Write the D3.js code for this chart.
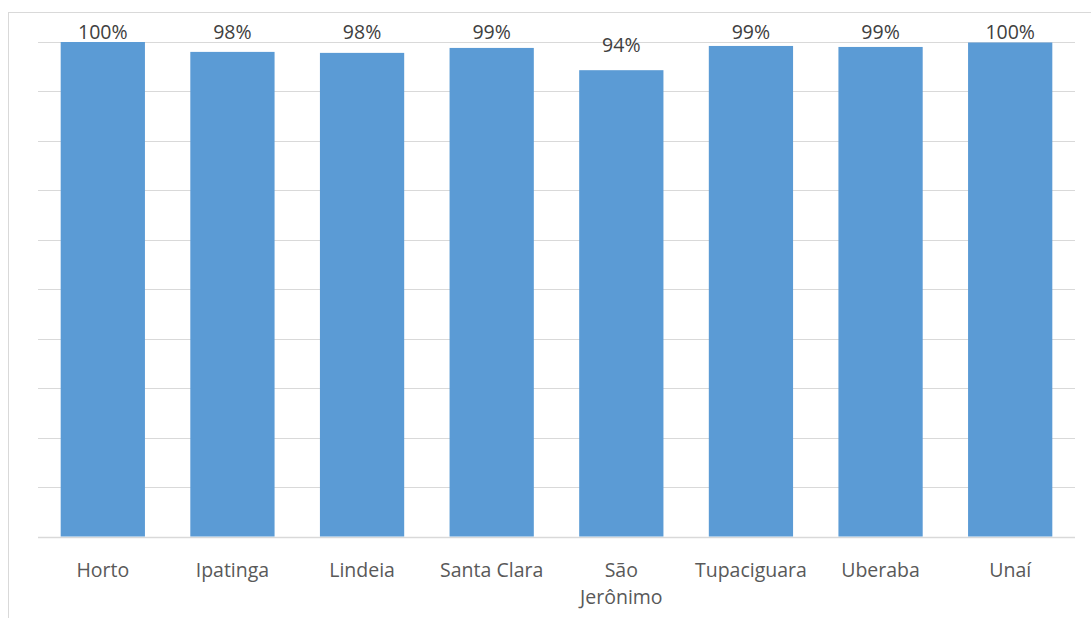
<!DOCTYPE html>
<html><head><meta charset="utf-8">
<script src="https://cdn.jsdelivr.net/npm/d3@7"></script>
<style>body{margin:0;background:#fff;}svg{display:block;}</style>
</head><body>
<script>
const categories = ["Horto","Ipatinga","Lindeia","Santa Clara","São Jerônimo","Tupaciguara","Uberaba","Unaí"];
const values = [1.00, 0.980, 0.978, 0.988, 0.943, 0.992, 0.990, 0.999];
const valueLabels = ["100%","98%","98%","99%","94%","99%","99%","100%"];
const categoryLines = [["Horto"],["Ipatinga"],["Lindeia"],["Santa Clara"],["São","Jerônimo"],["Tupaciguara"],["Uberaba"],["Unaí"]];
const yTicks = [0,0.1,0.2,0.3,0.4,0.5,0.6,0.7,0.8,0.9,1.0];

const W = 1091, H = 618;
const svg = d3.select("body").append("svg").attr("width", W).attr("height", H);
svg.append("rect").attr("x",8.5).attr("y",12.5).attr("width",1100).attr("height",700)
  .attr("fill","#fff").attr("stroke","#d9d9d9").attr("stroke-width",1);

const x = d3.scaleBand().domain(categories).range([38, 1075]).paddingInner(0.35).paddingOuter(0.175);
const y = d3.scaleLinear().domain([0,1]).range([536.5, 42]);

svg.append("g").selectAll("line").data(yTicks).join("line")
  .attr("x1",38).attr("x2",1075)
  .attr("y1",d=>Math.round(y(d))+0.5).attr("y2",d=>Math.round(y(d))+0.5)
  .attr("stroke","#d9d9d9").attr("stroke-width",d=>d===0?1.5:1);

svg.append("g").selectAll("rect").data(categories).join("rect")
  .attr("x",d=>x(d)).attr("width",x.bandwidth())
  .attr("y",(d,i)=>y(values[i])).attr("height",(d,i)=>y(0)-y(values[i]))
  .attr("fill","#5b9bd5");

const font = "'Open Sans', 'Noto Sans', sans-serif";
svg.append("g").selectAll("text").data(categories).join("text")
  .attr("x",d=>x(d)+x.bandwidth()/2)
  .attr("y",(d,i)=>Math.max(y(values[i]) - 18, 38.5))
  .attr("text-anchor","middle").attr("font-family",font).attr("font-size",19.5)
  .attr("fill","#404040").text((d,i)=>valueLabels[i]);

const cg = svg.append("g");
categories.forEach((c,i)=>{
  const t = cg.append("text").attr("x",x(c)+x.bandwidth()/2).attr("y",576.5)
    .attr("text-anchor","middle").attr("font-family",font).attr("font-size",19.5).attr("fill","#595959");
  categoryLines[i].forEach((ln,j)=>{
    t.append("tspan").attr("x",x(c)+x.bandwidth()/2).attr("dy", j===0?0:27).text(ln);
  });
});
</script>
</body></html>
